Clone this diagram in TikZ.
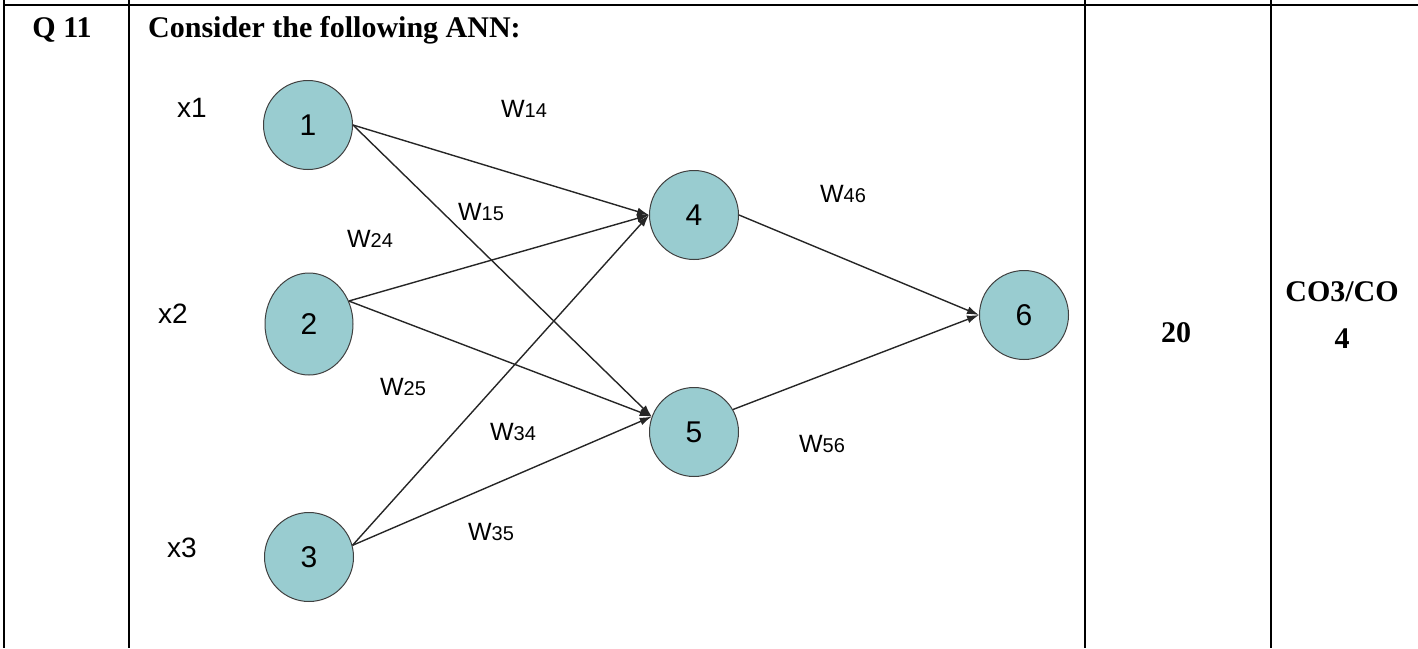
\documentclass[tikz,border=0pt]{standalone}
\usepackage{fontspec}
\setmainfont{Liberation Serif}
\newfontfamily\arialfont{Liberation Sans}
\usetikzlibrary{arrows.meta,shapes.geometric}
\definecolor{neuronfill}{RGB}{153,204,208}
\newcommand{\wlabel}[1]{{\fontsize{25}{25}\selectfont W}{\fontsize{20}{20}\selectfont #1}}

\begin{document}
\begin{tikzpicture}[x=1pt,y=-1pt,>={Latex[length=12pt,width=8pt]},
  neuron/.style={circle,draw=black!75,fill=neuronfill,line width=1pt,minimum size=89pt,inner sep=0pt,
    font=\arialfont\fontsize{30}{30}\selectfont},
  wlab/.style={anchor=base,inner sep=0pt,font=\arialfont},
  xlab/.style={anchor=base,inner sep=0pt,font=\arialfont\fontsize{28}{28}\selectfont},
  cell/.style={inner sep=0pt,font=\fontsize{30}{47}\selectfont\bfseries},
  grid/.style={line width=2.5pt}]
  \useasboundingbox (0,0) rectangle (1418,648);
  \draw[grid] (4,5) -- (1418,5);
  \draw[grid] (4,0) -- (4,648);
  \draw[grid] (129,0) -- (129,648);
  \draw[grid] (1085,0) -- (1085,648);
  \draw[grid] (1271,0) -- (1271,648);
  \node[cell,anchor=base] (qno) at (62,37) {Q 11};
  \node[cell,anchor=base west] (qtext) at (148,37) {Consider the following ANN:};
  \node[cell,anchor=base] (marks) at (1176,342) {20};
  \node[cell,anchor=north,align=center] (co) at (1342,281) {CO3/CO\\4};

  \node[neuron] (n1) at (308,125) {1};
  \node[neuron,ellipse,minimum width=88pt,minimum height=102pt] (n2) at (309,324) {2};
  \node[neuron] (n3) at (309,557) {3};
  \node[neuron] (n4) at (694,215) {4};
  \node[neuron] (n5) at (694,432) {5};
  \node[neuron] (n6) at (1024,315) {6};

  \node[xlab] (x1) at (192,117) {x1};
  \node[xlab] (x2) at (173,323) {x2};
  \node[xlab] (x3) at (182,557) {x3};

  \begin{scope}[line width=1.4pt,draw=black!85]
    \draw[->] (n1.east) -- (n4.west);
    \draw[->] (n1.east) -- (n5.160);
    \draw[->] (n2.30) -- (n4.west);
    \draw[->] (n2.30) -- (n5.160);
    \draw[->] (n3.15) -- (n4.west);
    \draw[->] (n3.15) -- (n5.160);
    \draw[->] (n4.east) -- (n6.west);
    \draw[->] (n5.30) -- (n6.west);
  \end{scope}

  \node[wlab] (w14) at (524,117) {\wlabel{14}};
  \node[wlab] (w15) at (481,220) {\wlabel{15}};
  \node[wlab] (w24) at (370,247) {\wlabel{24}};
  \node[wlab] (w25) at (403,395) {\wlabel{25}};
  \node[wlab] (w34) at (513,440) {\wlabel{34}};
  \node[wlab] (w35) at (491,540) {\wlabel{35}};
  \node[wlab] (w46) at (843,202) {\wlabel{46}};
  \node[wlab] (w56) at (822,452) {\wlabel{56}};
\end{tikzpicture}
\end{document}
